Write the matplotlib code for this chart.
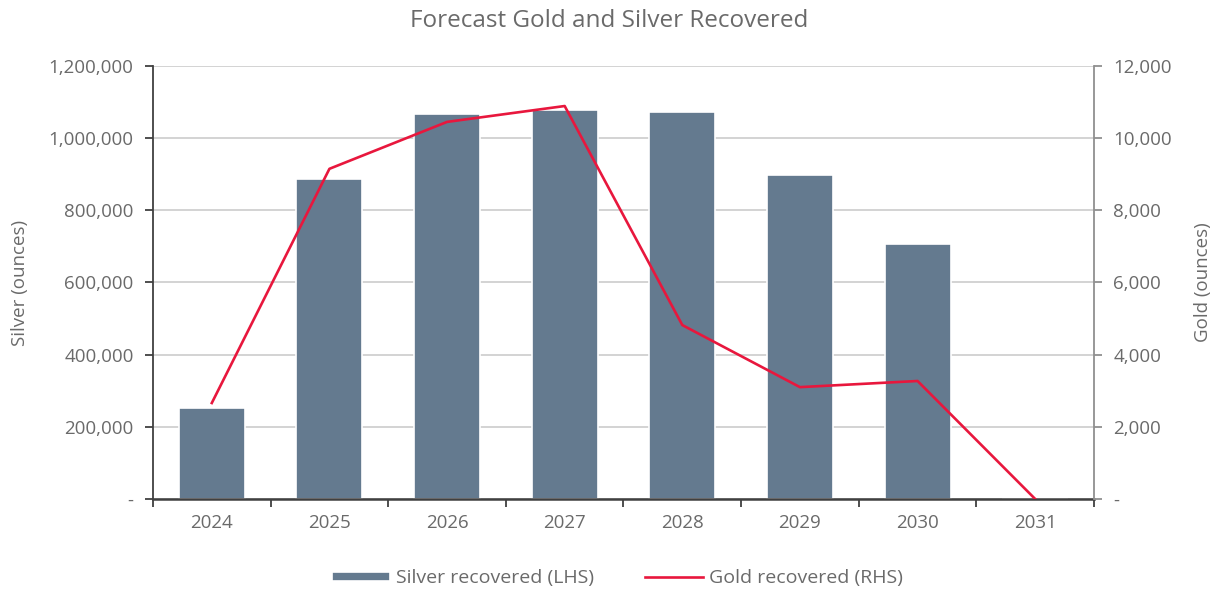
import matplotlib.pyplot as plt
import numpy as np
from matplotlib.ticker import FuncFormatter

years = ['2024', '2025', '2026', '2027', '2028', '2029', '2030', '2031']
silver = [252000, 887000, 1067000, 1078000, 1073000, 898000, 707000, 0]
gold = [2660, 9150, 10450, 10890, 4820, 3100, 3270, 0]

plt.rcParams['font.family'] = ['Open Sans', 'DejaVu Sans']
text_col = '#6a6a6a'

def fmt(v, pos):
    if v == 0:
        return '-'
    return f'{v:,.0f}'

fig = plt.figure(figsize=(12.18, 5.89), dpi=100)
ax = fig.add_axes([0.1256, 0.1528, 0.7726, 0.7352])
ax2 = ax.twinx()

x = np.arange(len(years))
ax.bar(x, silver, width=0.56, color='#647A8F', edgecolor='white', linewidth=1.2,
       label='Silver recovered (LHS)', zorder=2)
ax2.plot(x, gold, color='#E8173D', linewidth=1.9, label='Gold recovered (RHS)')

ax.set_xlim(-0.5, len(years) - 0.5)
ax.set_ylim(0, 1200000)
ax2.set_ylim(0, 12000)
ax.set_yticks(np.arange(0, 1200001, 200000))
ax2.set_yticks(np.arange(0, 12001, 2000))
ax.yaxis.set_major_formatter(FuncFormatter(fmt))
ax2.yaxis.set_major_formatter(FuncFormatter(fmt))
ax.yaxis.grid(True, color='#D0D0D0', linewidth=1.3, zorder=0)
ax.set_axisbelow(True)

ax.set_xticks(x)
ax.set_xticklabels(years)
ax.set_xticks(np.arange(-0.5, len(years), 1), minor=True)
ax.tick_params(axis='x', which='major', length=0, pad=11, labelsize=13.5, labelcolor=text_col)
ax.tick_params(axis='x', which='minor', length=6, width=1.3, color='#404040', direction='out')
ax.tick_params(axis='y', length=6, width=1.3, color='#404040', labelsize=13.5,
               labelcolor=text_col, pad=8)
ax2.tick_params(axis='y', length=6, width=1.3, color='#909090', labelsize=13.5,
                labelcolor=text_col, pad=8)

for s in ['top', 'right']:
    ax.spines[s].set_visible(False)
ax2.spines['top'].set_visible(False)
ax2.spines['left'].set_visible(False)
ax2.spines['bottom'].set_visible(False)
ax.spines['left'].set_color('#404040')
ax.spines['bottom'].set_color('#404040')
ax.spines['left'].set_linewidth(1.3)
ax.spines['bottom'].set_linewidth(1.8)
ax2.spines['right'].set_color('#909090')
ax2.spines['right'].set_linewidth(1.3)

ax.set_ylabel('Silver (ounces)', fontsize=13.5, color=text_col, labelpad=14)
ax2.set_ylabel('Gold (ounces)', fontsize=13.5, color=text_col, labelpad=16)
fig.suptitle('Forecast Gold and Silver Recovered', fontsize=17.5, color=text_col, y=0.985)

h1, l1 = ax.get_legend_handles_labels()
h2, l2 = ax2.get_legend_handles_labels()
fig.legend(h1 + h2, l1 + l2, loc='lower center', bbox_to_anchor=(0.507, -0.027), ncol=2,
           frameon=False, fontsize=14, labelcolor=text_col, handlelength=3.0,
           handleheight=0.4, handletextpad=0.3, columnspacing=2.6)

fig.savefig('out.png', dpi=100)
